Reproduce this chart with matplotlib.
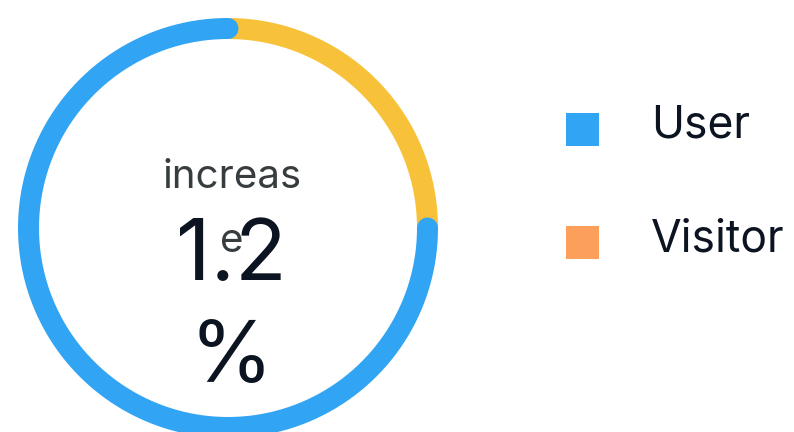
import numpy as np
import matplotlib
matplotlib.use("Agg")
from matplotlib import pyplot as plt
from matplotlib.patches import Rectangle

plt.rcParams['font.family'] = ['Inter', 'DejaVu Sans']

# data
categories = ['User', 'Visitor']
values = [75, 25]
arc_colors = ['#31A4F3', '#F8C13A']
legend_colors = ['#31A4F3', '#FC9F5B']
center_label = 'increase'
center_value = '1.2%'

fig = plt.figure(figsize=(7.94, 4.32), dpi=100)
ax = fig.add_axes([0, 0, 1, 1])
ax.set_xlim(0, 794)
ax.set_ylim(432, 0)
ax.set_aspect('equal')
ax.axis('off')

cx, cy, r = 228, 228, 199.5
lw = 21 * 0.72

total = sum(values)
# Visitor starts at the top, User follows and is drawn on top of it
v_start = 0.0
v_end = values[1] / total * 360
u_start = v_end
u_end = 360.0

def arc(a0, a1, color):
    t = np.radians(np.linspace(a0, a1, 400))
    ax.plot(cx + r * np.sin(t), cy - r * np.cos(t), color=color, lw=lw,
            solid_capstyle='round')

arc(v_start, v_end, arc_colors[1])
arc(u_start, u_end, arc_colors[0])

# centre text, wrapped the way the original got wrapped
ax.text(232, 188, center_label[:7], ha='center', va='baseline',
        fontsize=29, color='#373D3F')
ax.text(231, 280, center_value[:3], ha='center', va='baseline',
        fontsize=61, color='#0B1420')
ax.text(232, 252, center_label[7:], ha='center', va='baseline',
        fontsize=29, color='#373D3F')
ax.text(231, 382, center_value[3:], ha='center', va='baseline',
        fontsize=61, color='#0B1420')

# legend
for i, (name, col) in enumerate(zip(categories, legend_colors)):
    y0 = 113 + i * 113
    ax.add_patch(Rectangle((566, y0), 33, 33, color=col, lw=0))
    ax.text(651, y0 + 24 + i * 2, name, ha='left', va='baseline',
            fontsize=32, color='#0B1420')

fig.savefig('out.png', dpi=100)
